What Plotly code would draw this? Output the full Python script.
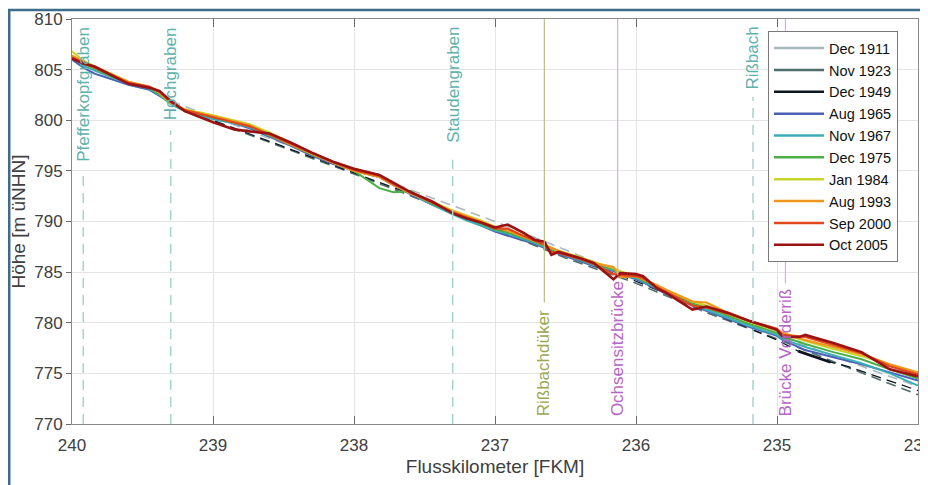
import plotly.graph_objects as go

# ---------------- data ----------------
km = [240.0, 239.92, 239.84, 239.7, 239.6, 239.45, 239.38, 239.3, 239.2, 239.0,
      238.85, 238.74, 238.6, 238.45, 238.3, 238.15, 238.0, 237.82, 237.72, 237.6,
      237.45, 237.3, 237.2, 237.1, 237.0, 236.91, 236.8, 236.72, 236.65, 236.6,
      236.55, 236.4, 236.3, 236.16, 236.11, 236.0, 235.95, 235.85, 235.78, 235.6,
      235.5, 235.35, 235.2, 235.0, 234.96, 234.84, 234.8, 234.6, 234.4, 234.2, 234.0]

aug_1965 = [806.0, 805.2, 804.6, 804.0, 803.5, 803.0, 802.4, 801.7, 800.9, 800.2,
            799.7, 799.2, 798.4, 797.5, 796.5, 795.7, 795.0, 794.4, 793.6, 792.7,
            791.7, 790.8, 790.2, 789.6, 789.0, 788.6, 788.1, 787.8, 787.4, 787.1,
            786.8, 786.1, 785.6, 785.1, 784.8, 784.3, 784.0, 783.3, 782.8, 781.7,
            781.2, 780.4, 779.6, 778.7, 778.3, 777.6, 777.3, 776.6, 775.9, 775.1, 774.3]
nov_1967 = [806.2, 805.4, 804.9, 804.1, 803.6, 803.1, 802.5, 801.6, 800.9, 800.1,
            799.7, 799.3, 798.5, 797.6, 796.7, 795.9, 795.2, 794.6, 793.7, 792.8,
            791.7, 790.7, 790.1, 789.6, 789.1, 788.8, 788.3, 787.9, 787.5, 787.2,
            786.9, 786.2, 785.7, 785.2, 784.9, 784.4, 784.1, 783.4, 782.9, 781.8,
            781.3, 780.5, 779.7, 778.8, 778.4, 777.8, 777.6, 776.8, 776.0, 775.0, 773.8]
dec_1975 = [806.3, 805.6, 805.1, 804.2, 803.7, 803.2, 802.6, 801.7, 801.0, 800.3,
            799.8, 799.4, 798.5, 797.6, 796.6, 795.8, 795.0, 793.3, 792.9, 793.0,
            791.8, 790.9, 790.4, 789.8, 789.2, 788.9, 788.4, 788.0, 787.6, 787.3,
            787.0, 786.3, 785.8, 785.3, 785.0, 784.5, 784.2, 783.5, 783.0, 781.9,
            781.5, 780.7, 779.9, 779.0, 778.6, 778.1, 777.9, 777.1, 776.4, 775.4, 774.5]
jan_1984 = [806.8, 805.9, 805.3, 804.4, 803.8, 803.3, 802.7, 801.7, 801.1, 800.5,
            800.0, 799.6, 798.8, 797.8, 796.8, 795.9, 795.1, 794.5, 793.7, 792.9,
            792.0, 791.1, 790.6, 790.1, 789.5, 789.2, 788.6, 788.2, 787.7, 787.4,
            787.1, 786.5, 786.0, 785.4, 785.1, 784.6, 784.3, 783.7, 783.2, 782.1,
            781.7, 780.9, 780.1, 779.2, 778.9, 778.4, 778.2, 777.4, 776.7, 775.8, 774.8]
aug_1993 = [806.4, 805.8, 805.3, 804.4, 803.8, 803.3, 802.8, 801.8, 801.0, 800.4,
            799.9, 799.5, 798.6, 797.6, 796.7, 795.8, 795.0, 794.4, 793.6, 792.8,
            791.9, 791.0, 790.5, 790.0, 789.4, 789.1, 788.5, 788.1, 787.7, 787.4,
            787.1, 786.4, 785.9, 785.5, 784.5, 784.6, 784.3, 783.7, 783.2, 782.1,
            782.0, 781.0, 780.2, 779.3, 779.0, 778.5, 778.3, 777.6, 776.9, 775.9, 775.1]
sep_2000 = [806.2, 805.7, 805.2, 804.3, 803.7, 803.3, 802.8, 801.8, 801.0, 800.3,
            799.8, 799.4, 798.6, 797.7, 796.8, 795.9, 795.1, 794.5, 793.7, 792.9,
            791.9, 790.9, 790.4, 789.9, 789.3, 789.3, 788.6, 788.1, 787.7, 787.0,
            786.9, 786.3, 785.8, 784.8, 784.7, 784.6, 784.4, 783.5, 783.0, 781.7,
            781.5, 780.9, 780.2, 779.4, 778.8, 778.6, 778.6, 777.8, 777.0, 775.7, 774.9]
oct_2005 = [806.1, 805.6, 805.3, 804.3, 803.6, 803.2, 802.9, 801.9, 800.9, 799.8,
            799.1, 798.9, 798.7, 797.8, 796.8, 795.9, 795.2, 794.6, 793.8, 792.9,
            792.0, 790.8, 790.3, 789.9, 789.4, 789.7, 788.9, 788.2, 788.0, 786.7,
            787.0, 786.4, 785.9, 784.3, 784.9, 784.8, 784.6, 783.4, 782.9, 781.3,
            781.6, 781.0, 780.2, 779.3, 778.6, 778.6, 778.8, 778.0, 777.1, 775.4, 774.7]

# older surveys (drawn dashed)
km_old = [239.3, 239.0, 238.5, 238.0, 237.5, 237.0, 236.5, 236.0, 235.5, 235.0, 234.5, 234.0]
dec_1911 = [801.9, 800.3, 797.7, 795.2, 792.6, 790.0, 787.2, 784.3, 781.4, 778.8, 776.2, 773.7]
nov_1923 = [801.6, 799.9, 797.3, 794.7, 792.0, 789.2, 786.4, 783.9, 781.0, 778.4, 775.6, 772.9]
km_1949 = [239.3, 239.0, 238.5, 238.0, 237.5, 237.0, 236.5, 236.0, 235.5, 235.0, 234.85, 234.62, 234.5, 234.0]
dec_1949 = [801.7, 800.0, 797.4, 794.8, 792.2, 789.4, 786.6, 784.1, 781.2, 778.3, 777.2, 776.1, 775.7, 773.3]

legend_names = ["Dec 1911", "Nov 1923", "Dec 1949", "Aug 1965", "Nov 1967",
                "Dec 1975", "Jan 1984", "Aug 1993", "Sep 2000", "Oct 2005"]
legend_colors = ["#a8b9bd", "#4d6e6a", "#0e1521", "#4a5fb5", "#3aaeb8",
                 "#4bae48", "#c8d42c", "#f0961e", "#e2471b", "#9b1212"]

marker_names = ["Pfefferkopfgraben", "Hochgraben", "Staudengraben", "Rißbach",
                "Rißbachdüker", "Ochsensitzbrücke", "Brücke Vorderriß"]
marker_km = [239.92, 239.30, 237.30, 235.17, 236.65, 236.13, 234.94]
marker_kind = ["trib", "trib", "trib", "trib", "olive", "bridge", "bridge"]

x_ticks = [240, 239, 238, 237, 236, 235, 234]
y_ticks = [770, 775, 780, 785, 790, 795, 800, 805, 810]

# ---------------- figure ----------------
FONT = "Liberation Sans, Arial, sans-serif"
fig = go.Figure()

# legend entries (solid samples)
for name, col in zip(legend_names, legend_colors):
    fig.add_trace(go.Scatter(x=[None], y=[None], mode="lines", name=name,
                             line=dict(color=col, width=2.5), legendgroup=name))

cmap = dict(zip(legend_names, legend_colors))

# older surveys dashed
fig.add_trace(go.Scatter(x=km_old, y=dec_1911, mode="lines", showlegend=False,
                         line=dict(color=cmap["Dec 1911"], width=1.6, dash="10px,6px")))
fig.add_trace(go.Scatter(x=km_old, y=nov_1923, mode="lines", showlegend=False,
                         line=dict(color=cmap["Nov 1923"], width=1.6, dash="10px,6px")))
fig.add_trace(go.Scatter(x=km_1949, y=dec_1949, mode="lines", showlegend=False,
                         line=dict(color=cmap["Dec 1949"], width=1.3, dash="10px,6px")))
fig.add_trace(go.Scatter(x=km_1949[10:12], y=dec_1949[10:12], mode="lines", showlegend=False,
                         line=dict(color=cmap["Dec 1949"], width=2.8)))

for name, vals, w in [("Aug 1965", aug_1965, 2), ("Nov 1967", nov_1967, 2),
                      ("Dec 1975", dec_1975, 2), ("Jan 1984", jan_1984, 2),
                      ("Aug 1993", aug_1993, 2.2), ("Sep 2000", sep_2000, 2.2),
                      ("Oct 2005", oct_2005, 2.6)]:
    fig.add_trace(go.Scatter(x=km, y=vals, mode="lines", showlegend=False,
                             line=dict(color=cmap[name], width=w)))

# vertical markers
styles = {
    "trib": dict(line="#a9d3cf", text="#5fb1ab"),
    "olive": dict(line="#bdbf86", text="#9ba752"),
    "bridge": dict(line="#dbaae3", text="#b565c6"),
}
trib_line_top = {"Pfefferkopfgraben": 794.9, "Hochgraben": 799.0,
                 "Staudengraben": 796.1, "Rißbach": 802.3}
struct_line_bottom = {"Rißbachdüker": 782.0, "Ochsensitzbrücke": 784.7,
                      "Brücke Vorderriß": 783.9}
shapes = []
annotations = []
for name, xk, kind in zip(marker_names, marker_km, marker_kind):
    st = styles[kind]
    if kind == "trib":
        shapes.append(dict(type="line", xref="x", yref="y", x0=xk, x1=xk, y0=770,
                           y1=trib_line_top[name], layer="above",
                           line=dict(color=st["line"], width=1.5, dash="10px,7px")))
        annotations.append(dict(x=xk, y=809.4, xref="x", yref="y", text=name,
                                textangle=-90, showarrow=False, xanchor="center",
                                yanchor="top", font=dict(family=FONT, size=17, color=st["text"])))
    else:
        shapes.append(dict(type="line", xref="x", yref="y", x0=xk, x1=xk, y0=810,
                           y1=struct_line_bottom[name], layer="above",
                           line=dict(color=st["line"], width=1.2)))
        annotations.append(dict(x=xk, y=770.6, xref="x", yref="y", text=name,
                                textangle=-90, showarrow=False, xanchor="center",
                                yanchor="bottom", font=dict(family=FONT, size=17, color=st["text"])))

# outer frame
shapes.append(dict(type="rect", xref="paper", yref="paper", x0=-0.0742, x1=1.03,
                   y0=-0.17, y1=1.0222, line=dict(color="#3d6c8a", width=2.5),
                   fillcolor="rgba(0,0,0,0)", layer="below"))

# the page body has an 8px margin, so the figure is sized/offset to compensate
fig.update_layout(
    width=920, height=477,
    margin=dict(l=64, r=10, t=11, b=61, autoexpand=False),
    paper_bgcolor="white", plot_bgcolor="white",
    font=dict(family=FONT, color="#404040"),
    shapes=shapes, annotations=annotations,
    legend=dict(x=0.8227, y=0.970, xanchor="left", yanchor="top",
                bgcolor="white", bordercolor="#7a7a7a", borderwidth=1,
                font=dict(family=FONT, size=14.5, color="#111111"),
                itemwidth=50, tracegroupgap=0),
    xaxis=dict(range=[240, 234], tickvals=x_ticks, ticktext=[str(t) for t in x_ticks],
               automargin=False,
               showgrid=True, gridcolor="#e4e4e4", gridwidth=1, zeroline=False,
               showline=True, linecolor="#8a8a8a", linewidth=1, mirror="ticks",
               ticks="inside", ticklen=8, tickcolor="#6a6a6a", ticklabeloverflow="allow",
               ticklabelstandoff=6,
               tickfont=dict(family=FONT, size=17, color="#404040"),
               title=dict(text="Flusskilometer [FKM]", font=dict(family=FONT, size=19, color="#404040"),
                          standoff=5)),
    yaxis=dict(range=[770, 810], tickvals=y_ticks, showgrid=True, gridcolor="#e4e4e4",
               automargin=False,
               gridwidth=1, zeroline=False, showline=True, linecolor="#8a8a8a",
               linewidth=1, mirror=True, ticks="outside", ticklen=5, tickcolor="#6a6a6a",
               tickfont=dict(family=FONT, size=17, color="#404040"),
               title=dict(text="Höhe [m üNHN]", font=dict(family=FONT, size=19, color="#404040"),
                          standoff=4)),
    yaxis2=dict(range=[770, 810], overlaying="y", side="right", tickvals=y_ticks,
                automargin=False,
                showticklabels=False, ticks="inside", ticklen=7, tickcolor="#6a6a6a",
                showgrid=False, zeroline=False, showline=False),
)

fig.write_html("out.html")
